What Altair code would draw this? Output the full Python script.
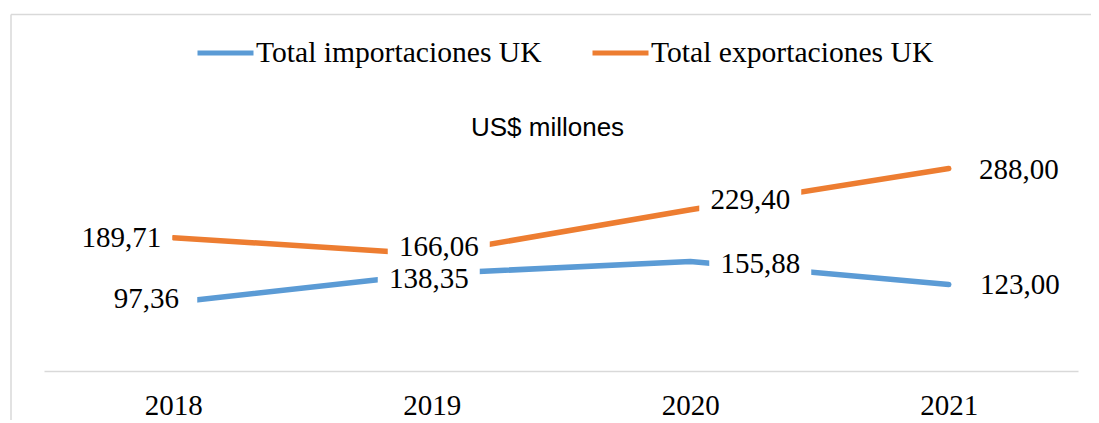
import altair as alt
import pandas as pd

years = ["2018", "2019", "2020", "2021"]
imports_uk = [97.36, 138.35, 155.88, 123.00]
exports_uk = [189.71, 166.06, 229.40, 288.00]
series_names = ["Total importaciones UK", "Total exportaciones UK"]
series_colors = ["#5B9BD5", "#ED7D31"]
subtitle = "US$ millones"

rows = []
for name, vals in zip(series_names, [imports_uk, exports_uk]):
    for y, v in zip(years, vals):
        rows.append({"year": y, "value": v, "series": name,
                     "label": f"{v:.2f}".replace(".", ",")})
df = pd.DataFrame(rows)

# label placement (pixel nudges, style only)
label_nudge = {
    ("Total importaciones UK", "2018"): (-27, -4),
    ("Total importaciones UK", "2019"): (-3, 5),
    ("Total importaciones UK", "2020"): (70, 3),
    ("Total importaciones UK", "2021"): (71, 0),
    ("Total exportaciones UK", "2018"): (-52, 0),
    ("Total exportaciones UK", "2019"): (7, -7),
    ("Total exportaciones UK", "2020"): (60, -10),
    ("Total exportaciones UK", "2021"): (70, 1),
}

SERIF = "Liberation Serif"

x_enc = alt.X("year:O", scale=alt.Scale(type="point", padding=0.5),
              axis=alt.Axis(title=None, labelAngle=0, labelFont=SERIF, labelFontSize=29,
                            labelColor="black", domainColor="#D9D9D9", domainWidth=1.5,
                            ticks=False, labelPadding=20, grid=False))
y_enc = alt.Y("value:Q", scale=alt.Scale(domain=[0, 350]), axis=None)

base = alt.Chart(df).encode(x=x_enc, y=y_enc)

lines = base.mark_line(strokeWidth=5.5, strokeCap="round", strokeJoin="round").encode(
    color=alt.Color("series:N", scale=alt.Scale(domain=series_names, range=series_colors),
                    legend=alt.Legend(title=None, orient="none", legendX=151, legendY=-103,
                                      direction="horizontal", symbolType="stroke",
                                      symbolSize=3136, symbolStrokeWidth=5,
                                      labelFont=SERIF, labelFontSize=29.6, labelColor="black",
                                      labelOffset=0, columnPadding=40, padding=0,
                                      labelLimit=0)),
    detail="series:N")

boxes = []
texts = []
for (s, yr), (dx, dy) in label_nudge.items():
    sel = base.transform_filter((alt.datum.series == s) & (alt.datum.year == yr))
    boxes.append(sel.mark_point(shape="M-1,-0.33H1V0.33H-1Z", filled=True, color="white",
                                opacity=1, strokeWidth=0, size=10404,
                                xOffset=dx, yOffset=dy))
    texts.append(sel.mark_text(font=SERIF, fontSize=29, color="black", dx=dx, dy=dy,
                               align="center", baseline="middle").encode(text="label:N"))

one = alt.Data(values=[{}])
border_left = alt.Chart(one).mark_rule(color="#D9D9D9", strokeWidth=1.5).encode(
    x=alt.value(-33), y=alt.value(-110.5), y2=alt.value(320))
border_top = alt.Chart(one).mark_rule(color="#D9D9D9", strokeWidth=1.5).encode(
    x=alt.value(-33), x2=alt.value(1070), y=alt.value(-110.5))
title = alt.Chart(one).mark_text(font="Liberation Sans", fontSize=26, color="black",
                                 align="center", baseline="alphabetic").encode(
    x=alt.value(503.5), y=alt.value(11), text=alt.value(subtitle))

chart = alt.layer(border_left, border_top, title, lines, *boxes, *texts).properties(
    width=1034, height=246,
    autosize=alt.AutoSizeParams(type="none"),
    padding={"left": 36, "top": 117, "right": 13, "bottom": 49},
    background="white",
).configure_view(stroke=None)

chart.save("out.html", embed_options={"renderer": "svg", "actions": False})
